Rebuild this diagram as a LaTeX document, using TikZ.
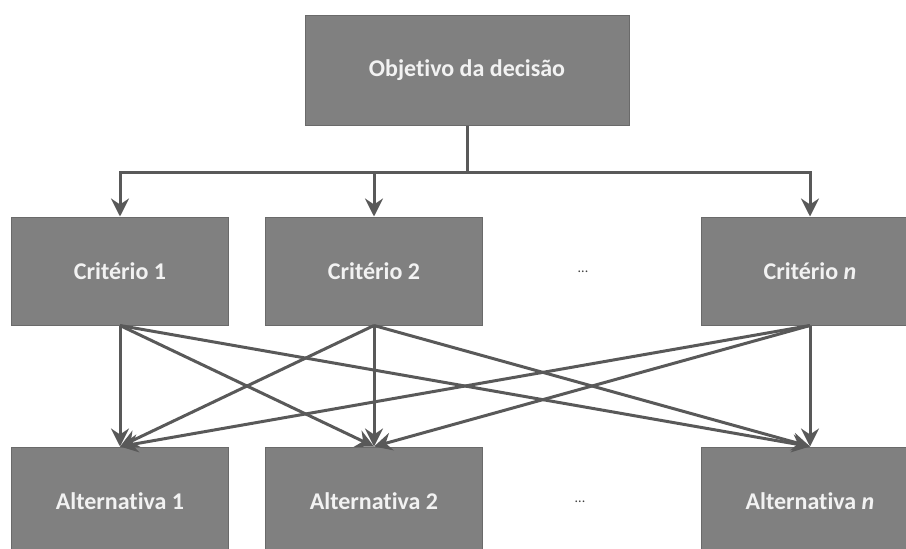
\documentclass[tikz,border=0pt]{standalone}
\usepackage{fontspec}
\setmainfont{Carlito}[Ligatures = NoCommon]
\usetikzlibrary{arrows.meta}
\definecolor{boxgray}{HTML}{808080}
\definecolor{edgegray}{HTML}{6A6A6A}
\definecolor{linegray}{HTML}{595959}
\begin{document}
\begin{tikzpicture} [x = .5pt, y = -.5pt,
  box/.style = {draw = edgegray, line width = .5pt, fill = boxgray, text = white!95!black,
    font = \fontsize{12}{14}\selectfont\bfseries, minimum width = 108.5pt, minimum height = 54pt, inner sep = 0pt},
  link/.style = {draw = linegray, line width = 1.5pt, -{Stealth[length = 9pt, width = 9pt, inset = 3pt]}},
  dots/.style = {font = \scriptsize, text = black!75}]
\useasboundingbox (0,0) rectangle (906,548);
\clip (0,0) rectangle (906,548);
\node[box, minimum width = 162pt, minimum height = 55pt] (obj) at (467,70) {Objetivo da decisão};
\node[box] (c1) at (120,271) {Critério 1};
\node[box] (c2) at (374,271) {Critério 2};
\node[box] (cn) at (810,271) {Critério \textit{n}};
\node[dots] (d1) at (583,272) {...};
\node[box] (a1) at (120,501) {Alternativa 1};
\node[box] (a2) at (374,501) {Alternativa 2};
\node[box] (an) at (810,501) {Alternativa \textit{n}};
\node[dots] (d2) at (580,502) {...};
\coordinate (fork) at (467,172);
\draw [linegray, line width = 1.5pt] (obj.south) -- (fork);
\foreach \c in {c1, c2, cn}
  \draw [link] (fork) -| (\c.north);
\foreach \c in {c1, c2, cn}
  \foreach \a in {a1, a2, an}
    \draw [link] (\c.south) -- (\a.north);
\end{tikzpicture}
\end{document}
